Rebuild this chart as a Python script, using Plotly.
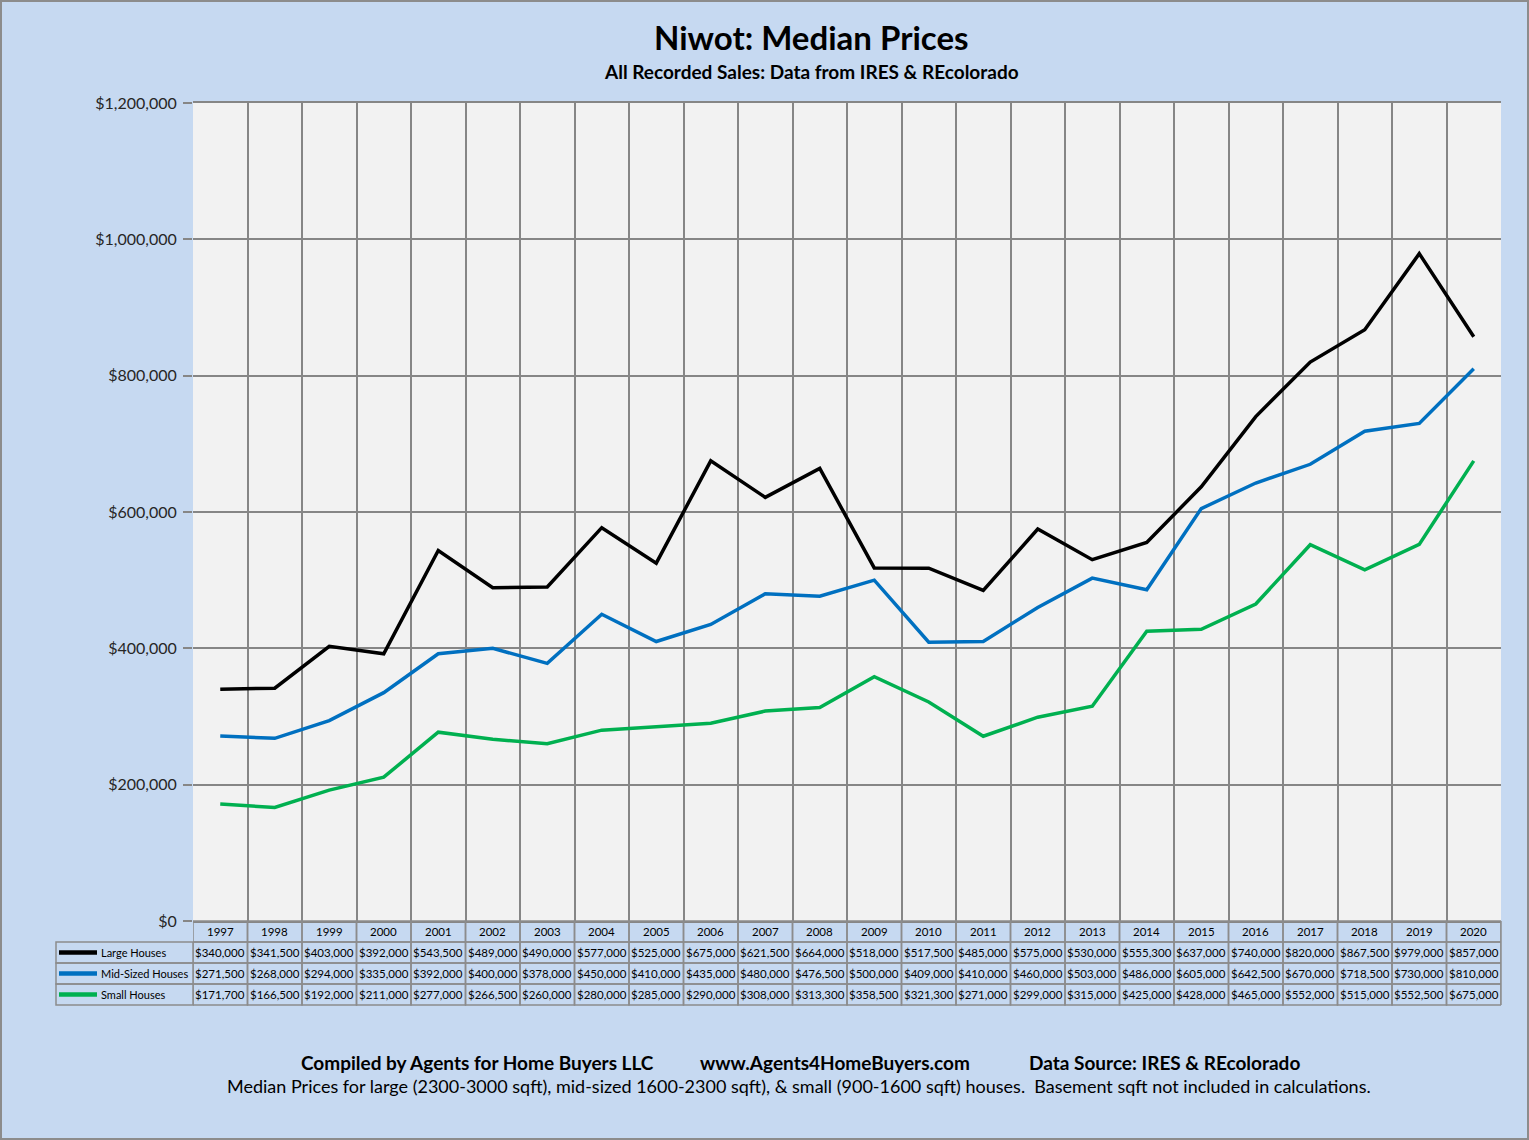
import plotly.graph_objects as go

# values
years = list(range(1997, 2021))
large_houses = [340000, 341500, 403000, 392000, 543500, 489000, 490000, 577000,
                525000, 675000, 621500, 664000, 518000, 517500, 485000, 575000,
                530000, 555300, 637000, 740000, 820000, 867500, 979000, 857000]
mid_houses = [271500, 268000, 294000, 335000, 392000, 400000, 378000, 450000,
              410000, 435000, 480000, 476500, 500000, 409000, 410000, 460000,
              503000, 486000, 605000, 642500, 670000, 718500, 730000, 810000]
small_houses = [171700, 166500, 192000, 211000, 277000, 266500, 260000, 280000,
                285000, 290000, 308000, 313300, 358500, 321300, 271000, 299000,
                315000, 425000, 428000, 465000, 552000, 515000, 552500, 675000]
series_names = ["Large Houses", "Mid-Sized Houses", "Small Houses"]
series_colors = ["#000000", "#0070C0", "#00B050"]

W, H = 1529, 1140
L, R, T, B = 56, 28, 103, 135
PW, PH = W - L - R, H - T - B
BG = "#C6D9F1"
GRID = "#868686"
CELL = "#8C8C8C"
FONT = "Lato"


def px(x):
    return (x - L) / PW


def py(y):
    return (H - B - y) / PH


fig = go.Figure()

series = [large_houses, mid_houses, small_houses]
for name, vals, color in zip(series_names, series, series_colors):
    fig.add_trace(go.Scatter(x=years, y=vals, mode="lines", name=name,
                             line=dict(color=color, width=3.5), hoverinfo="skip"))

# ---- data table under the plot (cells follow the x axis) ----
row_top = [921, 942, 963, 984]
row_h = 21
tfont = dict(family=FONT, size=11.5, color="#000000")
lfont = dict(family=FONT, size=11, color="#000000")

for yr in years:
    # header cell with the year
    fig.add_shape(type="rect", xref="x", yref="paper",
                  x0=yr - 0.5, x1=yr + 0.5, y0=py(row_top[0] + row_h), y1=py(row_top[0]),
                  line=dict(color=CELL, width=1.5))
    fig.add_annotation(x=yr, y=py(row_top[0] + row_h / 2), xref="x", yref="paper",
                       text=str(yr), showarrow=False, font=tfont,
                       xanchor="center", yanchor="middle")

for r, vals in enumerate(series):
    top = row_top[r + 1]
    ymid = py(top + row_h / 2)
    for yr, v in zip(years, vals):
        fig.add_shape(type="rect", xref="x", yref="paper",
                      x0=yr - 0.5, x1=yr + 0.5, y0=py(top + row_h), y1=py(top),
                      line=dict(color=CELL, width=1.5))
        fig.add_annotation(x=yr, y=ymid, xref="x", yref="paper",
                           text="${:,}".format(v), showarrow=False, font=tfont,
                           xanchor="center", yanchor="middle")
    # legend cell
    fig.add_shape(type="rect", xref="paper", yref="paper",
                  x0=px(56), x1=px(193), y0=py(top + row_h), y1=py(top),
                  line=dict(color=CELL, width=1.5))
    fig.add_shape(type="line", xref="paper", yref="paper",
                  x0=px(59), x1=px(97), y0=ymid, y1=ymid,
                  line=dict(color=series_colors[r], width=4.5))
    fig.add_annotation(x=px(99), y=ymid, xref="paper", yref="paper",
                       text=series_names[r], showarrow=False,
                       xanchor="left", yanchor="middle", font=lfont)

# right edge of the table
fig.add_shape(type="line", xref="paper", yref="paper",
              x0=px(1501), x1=px(1501), y0=py(1005), y1=py(921),
              line=dict(color=CELL, width=1.5))

fig.update_layout(
    width=W, height=H,
    margin=dict(l=L, r=R, t=T, b=B),
    paper_bgcolor=BG,
    plot_bgcolor="#F2F2F2",
    showlegend=False,
    font=dict(family=FONT, color="#000000"),
    xaxis=dict(domain=[px(193), 1], range=[1996.5, 2020.5],
               tick0=1996.5, dtick=1, showticklabels=False,
               showgrid=True, gridcolor=GRID, gridwidth=1.5,
               showline=True, mirror=True, linecolor=GRID, linewidth=1.5,
               zeroline=False, fixedrange=True),
    yaxis=dict(domain=[py(921), 1], range=[0, 1200000], dtick=200000,
               tickformat="$,.0f", showgrid=True, gridcolor=GRID, gridwidth=1.5,
               ticks="outside", ticklen=9, tickcolor=GRID, tickwidth=1.5,
               ticklabelstandoff=3,
               tickfont=dict(family=FONT, size=16, color="#262626"),
               zeroline=False, showline=False, fixedrange=True),
)

annots = [
    (811, 37, "<b>Niwot: Median Prices</b>", 33),
    (811, 71, "<b>All Recorded Sales: Data from IRES &amp; REcolorado</b>", 19),
    (478, 1062, "<b>Compiled by Agents for Home Buyers LLC</b>", 19),
    (835, 1062, "<b>www.Agents4HomeBuyers.com</b>", 19),
    (1164, 1062, "<b>Data Source: IRES &amp; REcolorado</b>", 19),
    (799, 1086, "Median Prices for large (2300-3000 sqft), mid-sized 1600-2300 sqft), &amp; small "
                "(900-1600 sqft) houses.&nbsp;&nbsp;Basement sqft not included in calculations.", 18),
]
for x, y, text, size in annots:
    fig.add_annotation(x=px(x), y=py(y), xref="paper", yref="paper", text=text,
                       showarrow=False, xanchor="center", yanchor="middle",
                       font=dict(family=FONT, size=size, color="#000000"))

# thin outer frame of the picture
fig.add_shape(type="rect", xref="paper", yref="paper",
              x0=px(1), x1=px(W - 1), y0=py(H - 1), y1=py(1),
              line=dict(color="#8C8C8C", width=2))

fig.write_html("out.html", config={"displayModeBar": False},
               post_script="document.body.style.margin='0px';")
